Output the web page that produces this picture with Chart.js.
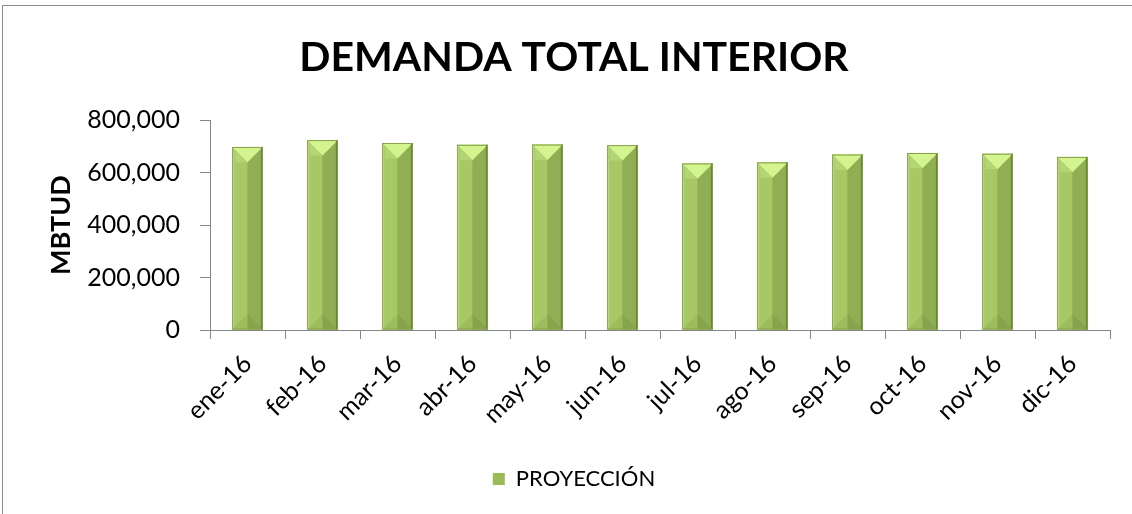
<!DOCTYPE html>
<html>
<head>
<meta charset="utf-8">
<script src="https://cdn.jsdelivr.net/npm/chart.js@4"></script>
<style>
  html, body { margin: 0; padding: 0; background: #fff; }
  #wrap { position: relative; width: 1132px; height: 514px; overflow: hidden; }
  #frame { position: absolute; left: 2px; top: 5px; width: 1200px; height: 600px; border: 1px solid #8c8c8c; }
  canvas { position: absolute; left: 0; top: 0; }
</style>
</head>
<body>
<div id="wrap">
  <div id="frame"></div>
  <canvas id="chart" width="1132" height="514"></canvas>
</div>
<script>
const labels = ["ene-16", "feb-16", "mar-16", "abr-16", "may-16", "jun-16",
                "jul-16", "ago-16", "sep-16", "oct-16", "nov-16", "dic-16"];
const proyeccion = [698000, 724000, 713000, 706000, 707000, 705000,
                    635000, 639000, 669000, 675000, 672000, 660000];
const yTicks = [0, 200000, 400000, 600000, 800000];

const FONT = "Lato, 'Open Sans', sans-serif";
const AXIS = "#868686";

// draws the bevelled look of the Excel bars on top of the plain bars
const bevel = {
  id: "bevel",
  afterDatasetsDraw(chart) {
    const ctx = chart.ctx;
    chart.getDatasetMeta(0).data.forEach((bar) => {
      const w = bar.width;
      const l = bar.x - w / 2, r = bar.x + w / 2, t = bar.y, b = bar.base;
      const d = w / 2;
      ctx.save();
      ctx.fillStyle = "#a8c865";
      ctx.fillRect(l, t, w / 2, b - t);
      ctx.fillStyle = "#91ae55";
      ctx.fillRect(bar.x, t, w / 2, b - t);
      // bottom bevel
      ctx.fillStyle = "#9dbd5c";
      ctx.beginPath();
      ctx.moveTo(l, b); ctx.lineTo(l + d, b - d); ctx.lineTo(bar.x, b); ctx.closePath(); ctx.fill();
      ctx.fillStyle = "#87a34c";
      ctx.beginPath();
      ctx.moveTo(bar.x, b); ctx.lineTo(r - d, b - d); ctx.lineTo(r, b); ctx.closePath(); ctx.fill();
      // top bevel
      ctx.fillStyle = "#d3f48e";
      ctx.beginPath();
      ctx.moveTo(l, t); ctx.lineTo(r, t); ctx.lineTo(bar.x, t + d); ctx.closePath(); ctx.fill();
      ctx.fillStyle = "#b5d474";
      ctx.beginPath();
      ctx.moveTo(l, t); ctx.lineTo(bar.x, t + d); ctx.lineTo(l + 3, t + d); ctx.lineTo(l + 3, t + 3); ctx.closePath(); ctx.fill();
      // edges
      ctx.fillStyle = "#c1dc88";
      ctx.fillRect(l, t, 2, b - t);
      ctx.fillStyle = "#668433";
      ctx.fillRect(r - 2, t, 2, b - t);
      ctx.strokeStyle = "#86a24a";
      ctx.lineWidth = 1;
      ctx.strokeRect(l + 0.5, t + 0.5, w - 1, b - t - 1);
      ctx.restore();
    });
  },
};

new Chart(document.getElementById("chart"), {
  type: "bar",
  data: {
    labels: labels,
    datasets: [{
      label: "PROYECCIÓN",
      data: proyeccion,
      backgroundColor: "#9bbb59",
      borderColor: "#7c9840",
      borderWidth: 0,
      barPercentage: 0.41,
      categoryPercentage: 1,
    }],
  },
  options: {
    responsive: false,
    animation: false,
    layout: { padding: { left: 38, right: 22, top: 0, bottom: 14 } },
    plugins: {
      title: {
        display: true,
        text: "DEMANDA TOTAL INTERIOR",
        color: "#000",
        font: { family: FONT, size: 41, weight: "bold", lineHeight: 1.2 },
        padding: { top: 33, bottom: 38 },
      },
      legend: {
        position: "bottom",
        labels: {
          color: "#000",
          font: { family: FONT, size: 22 },
          boxWidth: 12,
          boxHeight: 12,
          padding: 8,
        },
      },
      tooltip: { enabled: false },
    },
    scales: {
      y: {
        min: 0,
        max: 800000,
        afterBuildTicks: (axis) => { axis.ticks = yTicks.map((v) => ({ value: v })); },
        afterFit: (axis) => { axis.width = 172; },
        ticks: {
          color: "#000",
          font: { family: FONT, size: 25 },
          padding: 20,
          callback: (v) => v.toLocaleString("en-US"),
        },
        grid: { drawOnChartArea: false, color: AXIS, tickLength: 10 },
        border: { color: AXIS, width: 1 },
        title: {
          display: true,
          text: "MBTUD",
          color: "#000",
          font: { family: FONT, size: 27, weight: "bold" },
          padding: { top: 7, bottom: 4 },
        },
      },
      x: {
        afterFit: (axis) => {
          const legendH = axis.chart.legend ? axis.chart.legend.height : 0;
          axis.height = 514 - 330 - 14 - legendH;
        },
        ticks: {
          color: "#000",
          font: { family: FONT, size: 25 },
          maxRotation: 45,
          minRotation: 45,
          padding: 10,
        },
        grid: { offset: true, drawOnChartArea: false, color: AXIS, tickLength: 9 },
        border: { color: AXIS, width: 1 },
      },
    },
  },
  plugins: [bevel],
});
</script>
</body>
</html>
